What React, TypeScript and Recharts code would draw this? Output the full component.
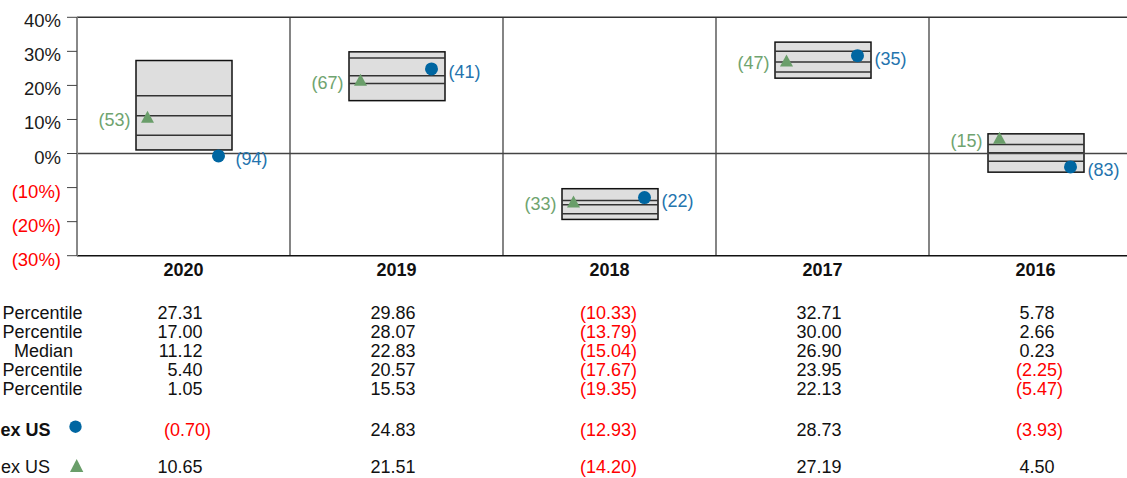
import React from 'react';
import { ComposedChart, Bar, Line, XAxis, YAxis, ReferenceLine } from 'recharts';

const categories = ['2020', '2019', '2018', '2017', '2016'];
const p95 = [27.31, 29.86, -10.33, 32.71, 5.78];
const p75 = [17.0, 28.07, -13.79, 30.0, 2.66];
const median = [11.12, 22.83, -15.04, 26.9, 0.23];
const p25 = [5.4, 20.57, -17.67, 23.95, -2.25];
const p5 = [1.05, 15.53, -19.35, 22.13, -5.47];
const blueReturn = [-0.7, 24.83, -12.93, 28.73, -3.93];
const greenReturn = [10.65, 21.51, -14.2, 27.19, 4.5];
const blueRank = [94, 41, 22, 35, 83];
const greenRank = [53, 67, 33, 47, 15];
const yTicks = [-30, -20, -10, 0, 10, 20, 30, 40];
const rowLabels = ['Percentile', 'Percentile', 'Median', 'Percentile', 'Percentile'];
const tableRows = [p95, p75, median, p25, p5];

const data = categories.map((cat, i) => ({
  cat,
  pos: i,
  range: [p5[i], p95[i]],
  p95: p95[i],
  p75: p75[i],
  median: median[i],
  p25: p25[i],
  p5: p5[i],
  blue: blueReturn[i],
  green: greenReturn[i],
  blueRank: blueRank[i],
  greenRank: greenRank[i],
}));

// category boundaries (between consecutive category positions)
const dividers = categories.slice(1).map((_, i) => i + 0.5);
const posDomain = [-0.5, categories.length - 0.5];
const posTicks = [-0.5, ...dividers, categories.length - 0.5];

const FONT = '"Liberation Sans", Arial, sans-serif';
const BLUE = '#0066A1';
const BLUE_TXT = '#2474AE';
const GREEN = '#6A9E6A';
const GREEN_TXT = '#6FA46F';
const RED = '#FF0000';

const BoxShape = (props: any) => {
  const { x, y, width, height, payload } = props;
  if (x == null || y == null) return null;
  const top = Math.min(y, y + height);
  const h = Math.abs(height);
  const pos = (v: number) => top + ((payload.p95 - v) / (payload.p95 - payload.p5)) * h;
  return (
    <g>
      <rect x={x} y={top} width={width} height={h} fill="#DEDEDE" stroke="#111" strokeWidth={1.5} />
      {[payload.p75, payload.median, payload.p25].map((v: number, k: number) => (
        <line key={k} x1={x} x2={x + width} y1={pos(v)} y2={pos(v)} stroke="#333" strokeWidth={1.5} />
      ))}
    </g>
  );
};

const BlueDot = (props: any) => {
  const { cx, cy, payload } = props;
  if (cx == null || cy == null) return null;
  const x = cx + 35;
  return (
    <g>
      <circle cx={x} cy={cy} r={6.5} fill={BLUE} />
      <text x={x + 17} y={cy + 9.5} fill={BLUE_TXT} fontSize={18} fontFamily={FONT}>
        ({payload.blueRank})
      </text>
    </g>
  );
};

const GreenDot = (props: any) => {
  const { cx, cy, payload } = props;
  if (cx == null || cy == null) return null;
  const x = cx - 36;
  return (
    <g>
      <polygon points={`${x},${cy - 6.5} ${x - 6.5},${cy + 5.5} ${x + 6.5},${cy + 5.5}`} fill={GREEN} />
      <text x={x - 17} y={cy + 8.5} fill={GREEN_TXT} fontSize={18} fontFamily={FONT} textAnchor="end">
        ({payload.greenRank})
      </text>
    </g>
  );
};

const YTick = (props: any) => {
  const { x, y, payload } = props;
  const v = payload.value;
  return (
    <text x={x} y={y + 10} textAnchor="end" fontSize={18.5} fontFamily={FONT} fill={v < 0 ? RED : '#1a1a1a'}>
      {v < 0 ? `(${-v}%)` : `${v}%`}
    </text>
  );
};

const fmt = (v: number) => (v < 0 ? `(${Math.abs(v).toFixed(2)})` : v.toFixed(2));

const rowOffsets = [63.3, 82.5, 101.5, 120.7, 139.7];

const XTick = (props: any) => {
  const { x, y, payload } = props;
  const i = categories.indexOf(payload.value);
  const cell = (v: number, dy: number, k: string) => (
    <text
      key={k}
      x={v < 0 ? x + 27.5 : x + 19}
      y={y + dy}
      textAnchor="end"
      fontSize={18}
      fontFamily={FONT}
      fill={v < 0 ? RED : '#111'}
    >
      {fmt(v)}
    </text>
  );
  return (
    <g>
      <text x={x} y={y + 20} textAnchor="middle" fontSize={18} fontWeight="bold" fontFamily={FONT} fill="#111">
        {payload.value}
      </text>
      {tableRows.map((row, r) => cell(row[i], rowOffsets[r], 'r' + r))}
      {cell(blueReturn[i], 180.3, 'b')}
      {cell(greenReturn[i], 217.6, 'g')}
    </g>
  );
};

const rowBaselines = [319, 338.2, 357.2, 376.4, 395.4];

export default function App() {
  return (
    <div style={{ position: 'absolute', left: 0, top: 0, width: 1127, height: 478, overflow: 'hidden', background: '#fff' }}>
      <ComposedChart
        width={1142}
        height={478}
        data={data}
        margin={{ top: 17.3, right: 0, bottom: 0, left: 0 }}
      >
        <XAxis
          dataKey="cat"
          type="category"
          height={222.3}
          tickLine={false}
          tickSize={0}
          tickMargin={0}
          axisLine={{ stroke: '#111', strokeWidth: 1.5 }}
          tick={<XTick />}
          interval={0}
        />
        <XAxis
          xAxisId="grid"
          dataKey="pos"
          type="number"
          domain={posDomain}
          ticks={posTicks}
          hide
          allowDataOverflow
        />
        <YAxis
          width={77}
          domain={[-30, 40]}
          ticks={yTicks}
          allowDataOverflow
          tickSize={10}
          tickMargin={6}
          tickLine={{ stroke: '#444', strokeWidth: 1 }}
          axisLine={{ stroke: '#888', strokeWidth: 2 }}
          tick={<YTick />}
          interval={0}
        />
        {dividers.map((d) => (
          <ReferenceLine key={d} xAxisId="grid" x={d} stroke="#333" strokeWidth={1.2} />
        ))}
        <ReferenceLine y={0} stroke="#444" strokeWidth={1.5} />
        <ReferenceLine y={40} stroke="#333" strokeWidth={1.5} />
        <Bar dataKey="range" barSize={96} shape={<BoxShape />} isAnimationActive={false} />
        <Line dataKey="green" stroke="none" dot={(p: any) => <GreenDot key={'g' + p.index} {...p} />} activeDot={false} isAnimationActive={false} />
        <Line dataKey="blue" stroke="none" dot={(p: any) => <BlueDot key={'b' + p.index} {...p} />} activeDot={false} isAnimationActive={false} />
      </ComposedChart>
      <svg width={1127} height={478} style={{ position: 'absolute', left: 0, top: 0, pointerEvents: 'none' }}>
        {rowLabels.map((l, r) =>
          l === 'Median' ? (
            <text key={r} x={14} y={rowBaselines[r]} fontSize={18} fontFamily={FONT} fill="#111">
              {l}
            </text>
          ) : (
            <text key={r} x={82.5} y={rowBaselines[r]} fontSize={18} fontFamily={FONT} fill="#111" textAnchor="end">
              {l}
            </text>
          )
        )}
        <text x={0.5} y={435.7} fontSize={18} fontWeight="bold" fontFamily={FONT} fill="#111">
          ex US
        </text>
        <circle cx={75.5} cy={426.7} r={6.2} fill={BLUE} />
        <text x={1} y={473.3} fontSize={18} fontFamily={FONT} fill="#111">
          ex US
        </text>
        <polygon points="76.7,459 70,472 83.3,472" fill={GREEN} />
      </svg>
    </div>
  );
}
